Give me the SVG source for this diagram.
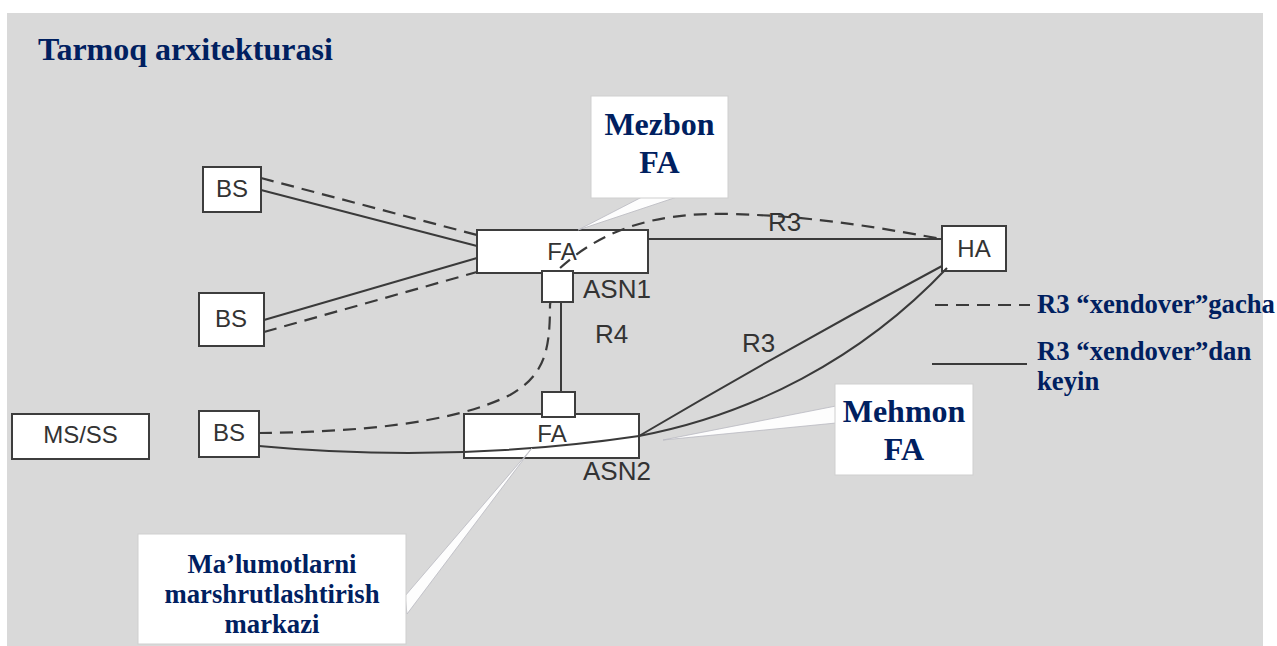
<svg xmlns="http://www.w3.org/2000/svg" width="1277" height="646" viewBox="0 0 1277 646">
<style>
.box{fill:#ffffff;stroke:#3d3d3d;stroke-width:2}
.lbl{font-family:"Liberation Sans",Arial,sans-serif;font-size:24px;fill:#333333;text-anchor:middle}
.lbl2{font-family:"Liberation Sans",Arial,sans-serif;font-size:26px;fill:#333333}
.ln{fill:none;stroke:#3a3a3a;stroke-width:2}
.dash{fill:none;stroke:#3a3a3a;stroke-width:2.2;stroke-dasharray:13 8}
.nv{font-family:"Liberation Serif","Times New Roman",serif;font-weight:bold;fill:#002060}
.call{fill:#ffffff;stroke:#cfcfcf;stroke-width:1}
.ptr{fill:#ffffff;stroke:#b8b8c0;stroke-width:0.8;opacity:0.95}
</style>
<rect x="0" y="0" width="1277" height="646" fill="#ffffff"/>
<rect x="7" y="13" width="1256" height="633" fill="#d9d9d9"/>
<text class="nv" x="38" y="60" font-size="32">Tarmoq arxitekturasi</text>

<g id="node-ms">
<rect class="box" x="12" y="414" width="137" height="45"/>
<text class="lbl" x="80.5" y="443" font-size="25">MS/SS</text>
</g>
<g id="node-bs1">
<rect class="box" x="203" y="167" width="58" height="45"/>
<text class="lbl" x="232" y="197">BS</text>
</g>
<g id="node-bs2">
<rect class="box" x="199" y="293" width="65" height="53"/>
<text class="lbl" x="231" y="327">BS</text>
</g>
<g id="node-bs3">
<rect class="box" x="199" y="411" width="60" height="46"/>
<text class="lbl" x="229" y="441">BS</text>
</g>
<g id="node-fa1">
<rect class="box" x="477" y="230" width="171" height="43"/>
<text class="lbl" x="562" y="260">FA</text>
</g>
<g id="node-fa2">
<rect class="box" x="464" y="414" width="175" height="44"/>
<text class="lbl" x="552" y="442">FA</text>
</g>
<g id="node-ha">
<rect class="box" x="942" y="226" width="64" height="45"/>
<text class="lbl" x="974" y="257">HA</text>
</g>

<g id="connectors">
<path class="ln" d="M261,190 L477,246"/>
<path class="dash" d="M261,178 L477,235"/>
<path class="ln" d="M264,320 L477,258"/>
<path class="dash" d="M264,332 L477,272"/>
<path class="ln" d="M648,239 L942,239"/>
<path class="dash" d="M259,433 C350,432 450,425 510,395 C545,375 550,350 550,305 L553,286 L560,268 C600,232 650,212 730,214 C820,216 890,230 942,239"/>
<path class="ln" d="M561,302 L561,392"/>
<path class="ln" d="M259,446 Q450,464 639,436"/>
<path class="ln" d="M639,436 Q790,347 942,266"/>
<path class="ln" d="M639,436 C750,415 860,360 947,268"/>
<path class="dash" d="M935,305 L1030,305" stroke="#555555"/>
<path class="ln" d="M932,364 L1027,364" stroke="#555555"/>
</g>

<g id="node-asn1">
<rect class="box" x="542" y="271" width="31" height="31"/>
<text class="lbl2" x="583" y="298">ASN1</text>
</g>
<g id="node-asn2">
<rect class="box" x="542" y="392" width="33" height="25"/>
<text class="lbl2" x="583" y="480">ASN2</text>
</g>
<g id="labels">
<text class="lbl2" x="595" y="343">R4</text>
<text class="lbl2" x="768" y="231">R3</text>
<text class="lbl2" x="742" y="352">R3</text>
<text class="nv" x="1037" y="313" font-size="26.7">R3 “xendover”gacha</text>
<text class="nv" x="1037" y="360" font-size="26.7">R3 “xendover”dan</text>
<text class="nv" x="1037" y="390" font-size="26.7">keyin</text>
</g>

<g id="callout-mezbon">
<polygon class="ptr" points="642,197 677,197 578,230"/>
<rect class="call" x="591" y="96" width="137" height="102"/>
<text class="nv" x="659.5" y="135" font-size="32" text-anchor="middle">Mezbon</text>
<text class="nv" x="659.5" y="173" font-size="32" text-anchor="middle">FA</text>
</g>
<g id="callout-mehmon">
<polygon class="ptr" points="836,406 836,423 663,440"/>
<rect class="call" x="835" y="384" width="138" height="91"/>
<text class="nv" x="904" y="422" font-size="32" text-anchor="middle">Mehmon</text>
<text class="nv" x="904" y="460" font-size="32" text-anchor="middle">FA</text>
</g>
<g id="callout-markaz">
<polygon class="ptr" points="405,596 407,614 532,448"/>
<rect class="call" x="138" y="534" width="268" height="110"/>
<text class="nv" x="272" y="573" font-size="26.7" text-anchor="middle">Ma’lumotlarni</text>
<text class="nv" x="272" y="603" font-size="26.7" text-anchor="middle">marshrutlashtirish</text>
<text class="nv" x="272" y="633" font-size="26.7" text-anchor="middle">markazi</text>
</g>
</svg>
